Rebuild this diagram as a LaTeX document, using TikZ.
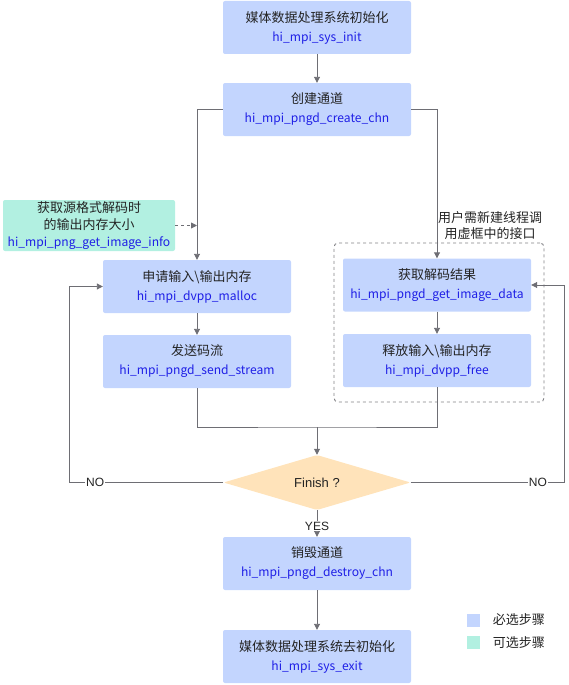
\documentclass[tikz,border=0pt]{standalone}
\usepackage{fontspec}
\setmainfont{Noto Sans CJK SC}
\newfontfamily\latinfont{Liberation Sans}
\usetikzlibrary{arrows.meta}
\usetikzlibrary{shapes.geometric}
\usetikzlibrary{positioning}
\definecolor{stepblue}{RGB}{195,213,254}
\definecolor{optgreen}{RGB}{178,240,225}
\definecolor{decorange}{RGB}{255,227,186}
\definecolor{linegray}{RGB}{110,110,116}
\definecolor{framegray}{RGB}{130,130,134}
\definecolor{textgray}{RGB}{35,35,35}
\definecolor{apiblue}{RGB}{30,30,230}
\newcommand{\apiname}[1]{{\fontsize{12.1}{19}\selectfont\textcolor{apiblue}{#1}}}
\tikzset{stepbox/.style = {fill=stepblue, rounded corners=2pt, minimum width=188pt,
                           minimum height=53pt, inner sep=0pt, align=center, text=textgray,
                           font=\fontsize{13}{19}\selectfont}}
\tikzset{optbox/.style = {stepbox, fill=optgreen, minimum width=172pt, minimum height=51pt,
                          font=\fontsize{13}{17}\selectfont}}
\tikzset{decision/.style = {diamond, fill=decorange, rounded corners=2pt, minimum width=187pt,
                            minimum height=55pt, inner sep=0pt, text=textgray,
                            font=\latinfont\fontsize{13}{15}\selectfont}}
\tikzset{flow/.style = {draw=linegray, line width=0.9pt, -{Triangle[width=6pt, length=6pt]}}}
\tikzset{conn/.style = {draw=linegray, line width=0.9pt}}
\tikzset{choice/.style = {fill=white, inner sep=1pt, text=textgray,
                          font=\latinfont\fontsize{12}{14}\selectfont}}
\tikzset{groupframe/.style = {draw=framegray, dashed, line width=0.9pt, rounded corners=4pt,
                              minimum width=210pt, minimum height=159pt}}
\tikzset{key/.style = {fill=stepblue, minimum size=13pt, inner sep=0pt}}
\tikzset{keytext/.style = {inner sep=0pt, text=textgray, font=\fontsize{13}{15}\selectfont}}

\begin{document}
\begin{tikzpicture}[x=1pt, y=-1pt]
    \useasboundingbox (0, 0) rectangle (569, 685);

    \node [stepbox] (init) at (317, 27.5) {媒体数据处理系统初始化\\\apiname{hi\_mpi\_sys\_init}};
    \node [stepbox] (create) at (317, 109.5) {创建通道\\\apiname{hi\_mpi\_pngd\_create\_chn}};
    \node [optbox] (info) at (89, 225.5) {获取源格式解码时\\的输出内存大小\\\apiname{hi\_mpi\_png\_get\_image\_info}};
    \node [stepbox] (malloc) at (197, 286.5) {申请输入\textbackslash 输出内存\\\apiname{hi\_mpi\_dvpp\_malloc}};
    \node [stepbox] (send) at (197, 361.5) {发送码流\\\apiname{hi\_mpi\_pngd\_send\_stream}};

    \node [groupframe] (group) at (439, 322.5) {};
    \node [keytext, align=center, font=\fontsize{13}{16}\selectfont] (note) at (490, 225.5) {用户需新建线程调\\用虚框中的接口};
    \node [stepbox] (getdata) at (437, 285) {获取解码结果\\\apiname{hi\_mpi\_pngd\_get\_image\_data}};
    \node [stepbox] (free) at (437, 360.5) {释放输入\textbackslash 输出内存\\\apiname{hi\_mpi\_dvpp\_free}};

    \node [decision] (finish) at (317, 482.5) {Finish ?};
    \node [stepbox] (destroy) at (317, 563.5) {销毁通道\\\apiname{hi\_mpi\_pngd\_destroy\_chn}};
    \node [stepbox] (exit) at (317, 656.5) {媒体数据处理系统去初始化\\\apiname{hi\_mpi\_sys\_exit}};

    \coordinate (merge) at (317, 427);
    \coordinate (leftturn) at (69, 482.5);
    \coordinate (rightturn) at (564, 482.5);

    \draw [flow] (init) -- (create);
    \draw [flow] (create.west) -| (malloc.north);
    \draw [flow] (create.east) -| (getdata.north);
    \draw [flow, dashed] (info.east) -- (info.east -| malloc.north);
    \draw [flow] (malloc) -- (send);
    \draw [flow] (getdata) -- (free);
    \draw [conn] (send.south) |- (merge) -| (free.south);
    \draw [flow] (merge) -- (finish.north);
    \draw [flow] (finish.west) -- node [choice, pos=0.83] {NO} (leftturn) |- (malloc.west);
    \draw [flow] (finish.east) -- node [choice, pos=0.83] {NO} (rightturn) |- (getdata.east);
    \draw [flow] (finish.south) -- node [choice, pos=0.6] {YES} (destroy.north);
    \draw [flow] (destroy) -- (exit);

    \node [key] (keyreq) at (473, 620) {};
    \node [key, fill=optgreen] (keyopt) at (473, 642.5) {};
    \node [keytext, right=13pt of keyreq] {必选步骤};
    \node [keytext, right=13pt of keyopt] {可选步骤};
  \end{tikzpicture}
\end{document}
